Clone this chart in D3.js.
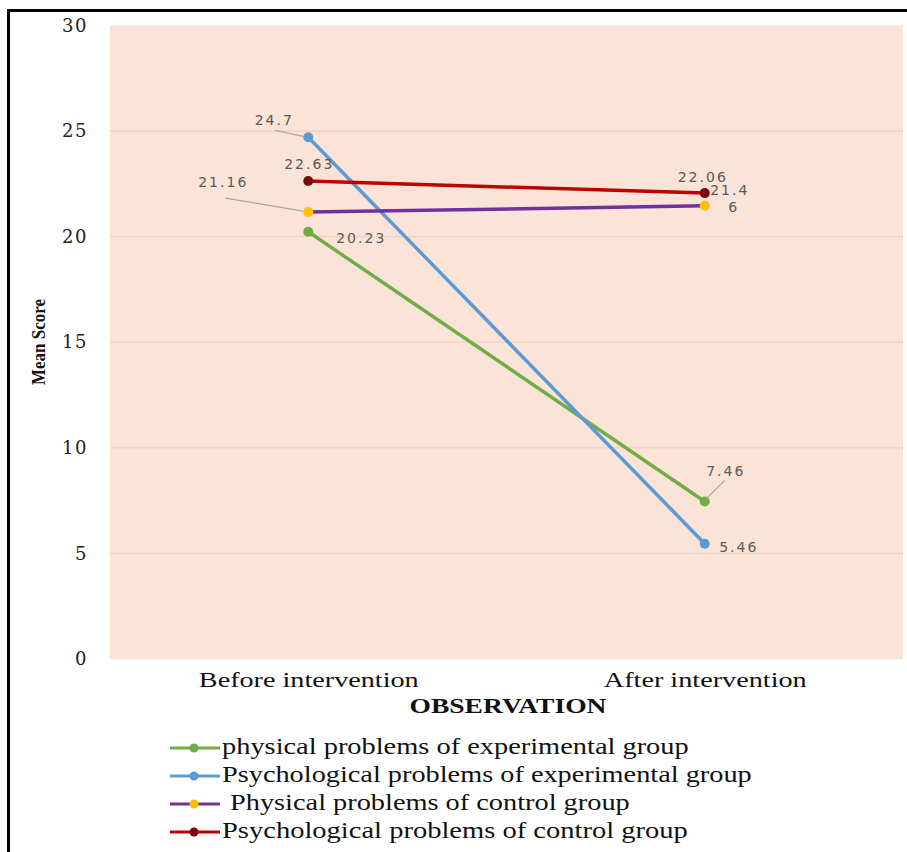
<!DOCTYPE html>
<html><head><meta charset="utf-8">
<script src="https://cdn.jsdelivr.net/npm/d3@7"></script>
<style>body{margin:0;background:#fff}svg{display:block}</style>
</head><body>
<script>
const categories = ["Before intervention", "After intervention"];
const seriesNames = [
  "physical problems of experimental group",
  "Psychological problems of experimental group",
  " Physical problems of control group",
  "Psychological problems of control group"
];
const physExp = [20.23, 7.46];
const psychExp = [24.7, 5.46];
const physCtrl = [21.16, 21.46];
const psychCtrl = [22.63, 22.06];
const yTicks = [0, 5, 10, 15, 20, 25, 30];
const lineColors = ["#70AD47", "#5B9BD5", "#7030A0", "#C00000"];
const markerColors = ["#70AD47", "#5B9BD5", "#FFC000", "#7B0A0A"];
const labelTexts = [["20.23", "7.46"], ["24.7", "5.46"], ["21.16", "21.4|6"], ["22.63", "22.06"]];
const labelOffsets = [
  [[53, 11], [21, -25]],
  [[-34, -12], [34, 8]],
  [[-85, -25], [25, -11]],
  [[1, -12], [-2, -11]]
];
const leaderOffsets = [
  [null, [20, -21]],
  [[-33, -7], null],
  [[-83, -14], null],
  [null, null]
];
const legendWidths = [467, 530, 400, 466];
const seriesData = [physExp, psychExp, physCtrl, psychCtrl];

const W = 907, H = 852;
const svg = d3.select("body").append("svg").attr("width", W).attr("height", H);
svg.append("rect").attr("width", W).attr("height", H).attr("fill", "#fff");

const x0 = 110, x1 = 903, yTop = 25.4, yBot = 659;
const x = d3.scalePoint().domain(categories).range([x0, x1]).padding(0.5);
const y = d3.scaleLinear().domain([0, 30]).range([yBot, yTop]);

svg.append("rect").attr("x", x0).attr("y", yTop).attr("width", x1 - x0).attr("height", yBot - yTop).attr("fill", "#FBE4D7");

svg.append("g").selectAll("line").data(yTicks.filter(d => d > 0 && d < 30)).join("line")
  .attr("x1", x0).attr("x2", x1).attr("y1", d => y(d)).attr("y2", d => y(d))
  .attr("stroke", "#EFD3C3").attr("stroke-width", 1.3);

const yAxis = svg.append("g").attr("transform", `translate(${x0},0)`)
  .call(d3.axisLeft(y).tickValues(yTicks).tickSize(0).tickPadding(22));
yAxis.select(".domain").remove();
yAxis.attr("font-family", null).attr("font-size", null);
yAxis.selectAll("text").attr("font-family", "'DejaVu Serif', serif").attr("font-size", 18)
  .attr("fill", "#222").attr("letter-spacing", 1.5);

const xAxis = svg.append("g").attr("transform", `translate(0,${yBot})`)
  .call(d3.axisBottom(x).tickSize(0).tickPadding(10));
xAxis.select(".domain").remove();
xAxis.attr("font-family", null).attr("font-size", null);
const xLabelWidths = [220, 203];
xAxis.selectAll(".tick text").attr("font-family", "'Liberation Serif', serif").attr("font-size", 22).attr("fill", "#111")
  .attr("dy", "0.8em")
  .each(function (d, i) {
    const n = this.getComputedTextLength();
    d3.select(this).attr("x", 0).attr("transform", `scale(${xLabelWidths[i] / n},1)`);
  });

const ms = svg.append("text").attr("x", 0).attr("y", 0).attr("text-anchor", "middle")
  .attr("font-family", "'Liberation Serif', serif").attr("font-weight", "bold").attr("font-size", 19)
  .attr("fill", "#111").text("Mean Score");
{
  const n = ms.node().getComputedTextLength();
  ms.attr("transform", `translate(45,342) rotate(-90) scale(${86 / n},1)`);
}
const ob = svg.append("text").attr("x", 0).attr("y", 0).attr("text-anchor", "middle")
  .attr("font-family", "'Liberation Serif', serif").attr("font-weight", "bold").attr("font-size", 21)
  .attr("fill", "#111").text("OBSERVATION");
{
  const n = ob.node().getComputedTextLength();
  ob.attr("transform", `translate(508,713) scale(${197 / n},1)`);
}

const line = d3.line().x((d, i) => x(categories[i])).y(d => y(d));
seriesData.forEach((s, k) => {
  svg.append("path").datum(s).attr("d", line).attr("fill", "none")
    .attr("stroke", lineColors[k]).attr("stroke-width", 3.5);
});
seriesData.forEach((s, k) => {
  svg.append("g").selectAll("circle").data(s).join("circle")
    .attr("cx", (d, i) => x(categories[i])).attr("cy", d => y(d)).attr("r", 5)
    .attr("fill", markerColors[k]);
});

const lab = svg.append("g").attr("font-family", "'DejaVu Sans', sans-serif").attr("font-size", 14)
  .attr("fill", "#595959").attr("letter-spacing", 2);
seriesData.forEach((s, k) => {
  s.forEach((v, i) => {
    const px = x(categories[i]), py = y(v);
    const [dx, dy] = labelOffsets[k][i];
    const lines = labelTexts[k][i].split("|");
    const t = lab.append("text").attr("x", px + dx).attr("y", py + dy).attr("text-anchor", "middle");
    lines.forEach((ln, j) => {
      t.append("tspan").attr("x", px + dx + (j > 0 ? 4 : 0)).attr("dy", j === 0 ? 0 : 17).text(ln);
    });
    const lo = leaderOffsets[k][i];
    if (lo) {
      const ex = px + (lo[0] < 0 ? -5 : 2), ey = py - (lo[0] < 0 ? 1 : 3);
      svg.append("line").attr("x1", px + lo[0]).attr("y1", py + lo[1]).attr("x2", ex).attr("y2", ey)
        .attr("stroke", "#A6A6A6").attr("stroke-width", 1.2);
    }
  });
});

const lg = svg.append("g");
seriesNames.forEach((name, k) => {
  const yy = 748 + k * 28;
  lg.append("line").attr("x1", 170).attr("x2", 220).attr("y1", yy).attr("y2", yy)
    .attr("stroke", lineColors[k]).attr("stroke-width", 3);
  lg.append("circle").attr("cx", 194).attr("cy", yy).attr("r", 4.5).attr("fill", markerColors[k]);
  const lead = name.startsWith(" ") ? 8 : 0;
  const tx = lg.append("text").attr("x", 0).attr("y", 0).attr("font-family", "'Liberation Serif', serif")
    .attr("font-size", 23).attr("fill", "#111").text(name.trim());
  const n = tx.node().getComputedTextLength();
  tx.attr("transform", `translate(${222 + lead},${yy + 6}) scale(${legendWidths[k] / n},1)`);
});

svg.append("line").attr("x1", 7).attr("x2", W).attr("y1", 10.5).attr("y2", 10.5).attr("stroke", "#000").attr("stroke-width", 3);
svg.append("line").attr("x1", 8.5).attr("x2", 8.5).attr("y1", 9).attr("y2", H).attr("stroke", "#000").attr("stroke-width", 3);
</script>
</body></html>
